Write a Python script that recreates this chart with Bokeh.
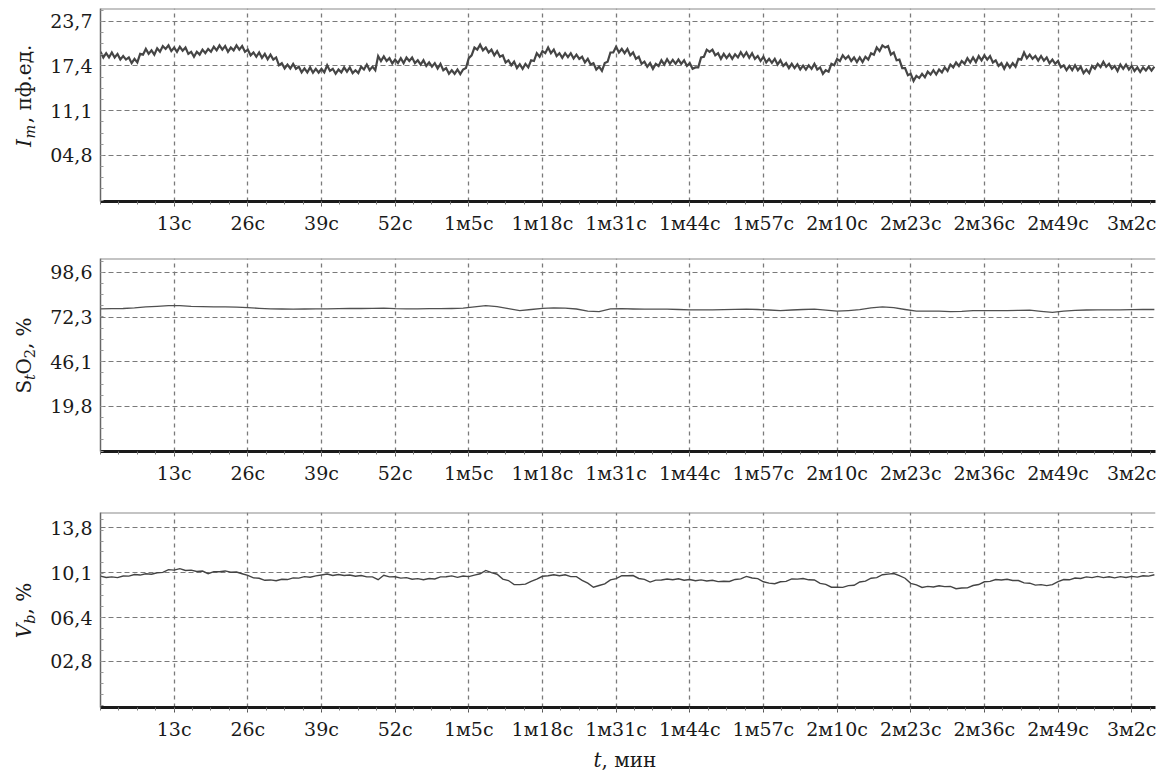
from bokeh.plotting import figure
from bokeh.models import FixedTicker, Span
from bokeh.layouts import column, row
from bokeh.embed import file_html
from bokeh.resources import INLINE
from bokeh.core.properties import value

# ---------------- data ----------------
IM_STEP = 0.5
STO2_STEP = 2.0
VB_STEP = 1.0

# I_m, perfusion units (0 .. 186 s, every 0.5 s)
im_values = [
    19.4, 18.6, 19.2, 18.6, 19.3, 18.6, 19.1, 18.3, 18.8, 18.3,
    18.6, 17.8, 18.4, 17.9, 19.1, 19.0, 19.8, 19.1, 19.6, 19.0,
    19.9, 19.4, 20.2, 19.8, 20.3, 19.5, 20.0, 19.4, 20.1, 19.55,
    20.0, 19.1, 19.4, 18.7, 19.4, 19.0, 19.7, 19.2, 19.8, 19.4,
    20.1, 19.6, 20.3, 19.7, 20.2, 19.4, 20.0, 19.6, 20.3, 19.7,
    20.2, 19.4, 19.7, 18.9, 19.3, 18.7, 19.3, 18.55, 19.1, 18.35,
    19.0, 18.3, 18.6, 17.5, 17.8, 17.05, 17.6, 17.05, 17.7, 17.0,
    17.3, 16.5, 17.05, 16.5, 17.2, 16.45, 17.0, 16.45, 17.0, 16.5,
    17.5, 16.7, 17.0, 16.3, 16.9, 16.5, 17.2, 16.6, 17.2, 16.4,
    16.8, 16.4, 17.3, 16.9, 17.6, 16.8, 17.3, 16.8, 18.8, 18.1,
    18.75, 18.1, 18.5, 17.75, 18.3, 17.8, 18.5, 17.8, 18.6, 18.1,
    18.6, 17.8, 18.2, 17.6, 18.2, 17.4, 17.9, 17.3, 17.8, 17.05,
    17.7, 16.8, 17.1, 16.3, 16.8, 16.3, 16.9, 16.25, 16.9, 17.1,
    18.5, 18.9, 20.0, 19.7, 20.4, 19.6, 20.0, 19.3, 19.7, 18.9,
    19.5, 18.7, 18.9, 17.9, 18.2, 17.5, 18.0, 17.1, 17.65, 17.0,
    17.7, 17.2, 18.2, 18.1, 19.2, 18.7, 19.5, 19.2, 20.0, 19.2,
    19.7, 18.8, 19.2, 18.55, 19.2, 18.65, 19.2, 18.45, 19.0, 18.4,
    18.7, 17.9, 18.4, 17.6, 17.8, 16.9, 17.3, 16.7, 17.8, 18.0,
    19.3, 19.3, 20.1, 19.3, 19.8, 19.2, 19.8, 18.9, 19.3, 18.4,
    18.7, 17.7, 18.0, 17.3, 17.8, 17.0, 17.7, 17.4, 18.2, 17.6,
    18.35, 17.7, 18.25, 17.7, 18.3, 17.7, 18.2, 17.4, 17.8, 17.0,
    17.2, 17.2, 18.6, 18.7, 19.7, 19.4, 19.7, 18.9, 19.2, 18.4,
    19.1, 18.5, 19.05, 18.4, 19.05, 18.6, 19.35, 18.7, 19.3, 18.55,
    19.2, 18.4, 18.8, 18.1, 18.7, 17.9, 18.4, 17.85, 18.4, 17.6,
    18.2, 17.4, 17.8, 17.1, 17.7, 17.1, 17.65, 16.9, 17.45, 16.9,
    17.5, 17.0, 17.7, 16.9, 17.2, 16.3, 16.8, 16.6, 17.7, 17.5,
    18.4, 18.1, 18.9, 18.4, 18.8, 18.1, 18.6, 17.95, 18.6, 17.95,
    18.7, 18.3, 19.2, 19.0, 20.0, 19.5, 20.3, 20.0, 20.2, 19.0,
    19.3, 18.2, 18.3, 17.1, 17.1, 16.1, 16.3, 15.3, 16.0, 15.7,
    16.3, 15.8, 16.6, 16.2, 16.8, 16.2, 16.9, 16.5, 17.2, 16.7,
    17.6, 17.2, 17.9, 17.4, 18.1, 17.7, 18.5, 17.9, 18.6, 17.95,
    18.8, 18.2, 18.9, 18.3, 18.8, 17.9, 18.2, 17.4, 17.8, 17.0,
    17.8, 17.2, 17.8, 17.3, 18.4, 18.3, 19.3, 18.5, 19.0, 18.4,
    18.8, 18.15, 18.8, 18.15, 18.6, 17.8, 18.3, 17.7, 18.1, 17.2,
    17.5, 16.8, 17.4, 16.8, 17.5, 16.8, 17.3, 16.4, 16.9, 16.4,
    17.4, 17.0, 17.7, 17.25, 18.0, 17.3, 17.7, 17.0, 17.4, 16.7,
    17.6, 17.0, 17.6, 16.9, 17.4, 16.7, 17.2, 16.55, 17.2, 16.75,
    17.3, 16.75, 17.3,
]

# StO2, % (0 .. 186 s, every 2 s)
sto2_values = [
    77.2, 77.3, 77.4, 77.8, 78.4, 78.7, 79.1, 79.1, 78.6, 78.5,
    78.4, 78.3, 78.2, 77.9, 77.5, 77.2, 77.1, 77.0, 77.1, 77.2,
    77.2, 77.3, 77.4, 77.4, 77.5, 77.6, 77.3, 77.2, 77.2, 77.3,
    77.3, 77.4, 77.6, 78.4, 79.1, 78.5, 77.3, 76.2, 76.8, 77.5,
    77.8, 77.6, 77.1, 75.8, 75.6, 77.2, 77.3, 77.1, 77.0, 77.0,
    77.0, 76.8, 76.6, 76.6, 76.6, 76.7, 76.9, 77.0, 76.8, 76.5,
    76.2, 76.5, 76.8, 77.0, 76.4, 75.8, 76.2, 76.7, 77.8, 78.4,
    77.9, 76.8, 75.8, 75.8, 75.8, 75.5, 75.7, 76.1, 76.2, 76.2,
    76.2, 76.3, 76.4, 75.7, 75.1, 75.9, 76.3, 76.5, 76.6, 76.6,
    76.6, 76.7, 76.8, 76.8,
]

# Vb, % (0 .. 186 s, every 1 s)
vb_values = [
    9.81, 9.70, 9.75, 9.69, 9.82, 9.81, 9.95, 9.90, 10.01, 9.97,
    10.09, 10.12, 10.35, 10.31, 10.43, 10.28, 10.31, 10.19, 10.23, 10.01,
    10.18, 10.17, 10.24, 10.13, 10.15, 10.01, 9.88, 9.67, 9.64, 9.47,
    9.50, 9.43, 9.55, 9.53, 9.67, 9.65, 9.77, 9.72, 9.83, 9.91,
    9.99, 9.87, 9.95, 9.86, 9.91, 9.80, 9.86, 9.75, 9.75, 9.52,
    9.88, 9.75, 9.76, 9.65, 9.69, 9.56, 9.61, 9.52, 9.62, 9.58,
    9.75, 9.76, 9.83, 9.71, 9.82, 9.77, 9.90, 10.01, 10.28, 10.10,
    9.97, 9.57, 9.45, 9.11, 9.11, 9.15, 9.39, 9.57, 9.80, 9.84,
    9.93, 9.85, 9.92, 9.77, 9.77, 9.46, 9.23, 8.90, 9.04, 9.17,
    9.50, 9.61, 9.85, 9.85, 9.86, 9.62, 9.55, 9.32, 9.48, 9.49,
    9.58, 9.51, 9.59, 9.48, 9.53, 9.43, 9.50, 9.41, 9.47, 9.36,
    9.39, 9.37, 9.54, 9.59, 9.79, 9.66, 9.61, 9.35, 9.24, 9.19,
    9.35, 9.38, 9.58, 9.57, 9.62, 9.51, 9.50, 9.21, 9.13, 8.90,
    8.91, 8.89, 9.03, 9.06, 9.33, 9.40, 9.64, 9.69, 9.93, 9.98,
    10.03, 9.85, 9.64, 9.22, 9.10, 8.88, 8.97, 8.92, 9.02, 8.95,
    8.97, 8.78, 8.83, 8.85, 9.04, 9.12, 9.35, 9.38, 9.53, 9.49,
    9.56, 9.45, 9.45, 9.26, 9.23, 9.07, 9.11, 9.03, 9.11, 9.36,
    9.53, 9.51, 9.66, 9.62, 9.75, 9.69, 9.79, 9.69, 9.76, 9.67,
    9.77, 9.70, 9.79, 9.73, 9.84, 9.81, 9.93,
]

x_ticks = [13, 26, 39, 52, 65, 78, 91, 104, 117, 130, 143, 156, 169, 182]
x_tick_labels = ["13с", "26с", "39с", "52с", "1м5с", "1м18с", "1м31с", "1м44с",
                 "1м57с", "2м10с", "2м23с", "2м36с", "2м49с", "3м2с"]

im_ticks = [4.8, 11.1, 17.4, 23.7]
im_tick_labels = ["04,8", "11,1", "17,4", "23,7"]
sto2_ticks = [19.8, 46.1, 72.3, 98.6]
sto2_tick_labels = ["19,8", "46,1", "72,3", "98,6"]
vb_ticks = [2.8, 6.4, 10.1, 13.8]
vb_tick_labels = ["02,8", "06,4", "10,1", "13,8"]

# y titles as (text, subscript?, italic?) pieces
im_title = [("I", False, True), ("m", True, True), (", пф.ед.", False, False)]
sto2_title = [("S", False, False), ("t", True, True), ("O", False, False),
              ("2", True, False), (", %", False, False)]
vb_title = [("V", False, True), ("b", True, True), (", %", False, False)]
x_title = [("t", False, True), (", мин", False, False)]

# ---------------- layout constants ----------------
X_END = 186.2
SERIF = "DejaVu Serif"
W = 1163
LAB_W = 46
FRAME_LEFT = 100
TICK_FONT = "19px"
TITLE_PX = 20.0
SUB_PX = 14.5
INK = "#1a1a1a"
BASE_SHIFT = 0.38     # renderer puts the glyph baseline this many em past the anchor
# approximate advance widths (em) of the title pieces in DejaVu Serif
ADV = {"I": 0.465, "m": 0.947, ", пф.ед.": 4.072, "S": 0.685, "t": 0.401,
       "O": 0.787, "2": 0.636, ", %": 1.586, "V": 0.722, "b": 0.640,
       ", мин": 2.75}


def minor_between(ticks, n, lo, hi):
    step = (ticks[1] - ticks[0]) / n
    out = []
    v = ticks[0]
    while v - step >= lo:
        v -= step
    while v <= hi:
        out.append(round(v, 4))
        v += step
    return out


def panel(values, step, yticks, ylabels, yrange, height, top, bottom,
          color, width):
    p = figure(width=W - LAB_W, height=height, x_range=(0, X_END), y_range=yrange,
               output_backend="svg", toolbar_location=None,
               min_border_left=FRAME_LEFT - LAB_W, min_border_right=8,
               min_border_top=top, min_border_bottom=bottom)
    p.outline_line_color = None
    p.background_fill_color = "white"
    p.border_fill_color = "white"

    t = [i * step for i in range(len(values))]
    p.line(t, values, line_color=color, line_width=width, line_join="miter")

    xa = p.xaxis[0]
    xa.ticker = FixedTicker(ticks=x_ticks,
                            minor_ticks=minor_between(x_ticks, 4, 0, X_END))
    xa.major_label_overrides = {k: v for k, v in zip(x_ticks, x_tick_labels)}
    xa.axis_line_color = "#1a1a1a"
    xa.axis_line_width = 3
    xa.major_tick_in = 0
    xa.major_tick_out = 5
    xa.minor_tick_in = 0
    xa.minor_tick_out = 3
    xa.major_tick_line_color = "#555555"
    xa.minor_tick_line_color = "#777777"
    xa.major_label_standoff = 5
    xa.major_label_text_font = SERIF
    xa.major_label_text_font_size = TICK_FONT
    xa.major_label_text_color = INK

    ya = p.yaxis[0]
    ya.ticker = FixedTicker(ticks=yticks,
                            minor_ticks=minor_between(yticks, 4, yrange[0], yrange[1]))
    ya.major_label_overrides = {k: v for k, v in zip(yticks, ylabels)}
    ya.axis_line_color = "#666666"
    ya.axis_line_width = 1.5
    ya.major_tick_in = 4
    ya.major_tick_out = 0
    ya.minor_tick_in = 3
    ya.minor_tick_out = 0
    ya.major_tick_line_color = "#777777"
    ya.minor_tick_line_color = "#999999"
    ya.major_label_standoff = 8
    ya.major_label_text_font = SERIF
    ya.major_label_text_font_size = TICK_FONT
    ya.major_label_text_color = INK

    p.xgrid.grid_line_color = "#7a7a7a"
    p.xgrid.grid_line_dash = "4 4"
    p.xgrid.grid_line_width = 1.3
    p.ygrid.grid_line_color = "#7a7a7a"
    p.ygrid.grid_line_dash = "5 3"
    p.ygrid.grid_line_width = 1.2

    p.add_layout(Span(location=yrange[1], dimension="width",
                      line_color="#8a8a8a", line_width=2))
    return p


def bare(width, height, xr, yr, top=0, bottom=0):
    s = figure(width=width, height=height, x_range=xr, y_range=yr,
               output_backend="svg", toolbar_location=None,
               x_axis_type=None, y_axis_type=None,
               min_border_left=0, min_border_right=0,
               min_border_top=top, min_border_bottom=bottom)
    s.outline_line_color = None
    s.grid.visible = False
    s.background_fill_color = "white"
    s.border_fill_color = "white"
    return s


def put(s, text, x, y, size, italic, angle, align):
    s.text(x=[x], y=[y], text=[text], angle=angle, angle_units="deg",
           text_font=value(SERIF), text_font_size=value(f"{size}px"),
           text_font_style="italic" if italic else "normal", text_color=INK,
           text_align=align, text_baseline="alphabetic")


def y_title(height, top, bottom, pieces, center_y, base_x=31, sub_x=35):
    # strip whose frame lines up with the panel frame; data units = page pixels
    f_top, f_bot = top, height - bottom
    s = bare(LAB_W, height, (0, LAB_W), (f_bot, f_top), top, bottom)
    sizes = [SUB_PX if sub else TITLE_PX for _, sub, _ in pieces]
    total = sum(ADV[t] * sz for (t, _, _), sz in zip(pieces, sizes))
    pos = center_y + total / 2.0       # reading runs upward from here
    for (text, sub, ital), sz in zip(pieces, sizes):
        adv = ADV[text] * sz
        bx = sub_x if sub else base_x
        put(s, text, bx - BASE_SHIFT * sz, pos - adv / 2.0, sz, ital, 90, "center")
        pos -= adv
    return s


H1, H2, H3, HT = 250, 250, 247, 27

p1 = panel(im_values, IM_STEP, im_ticks, im_tick_labels, (-1.7, 25.5),
           H1, 8, 49, "#454545", 2.2)
p2 = panel(sto2_values, STO2_STEP, sto2_ticks, sto2_tick_labels, (-6.7, 106.8),
           H2, 8, 49, "#505050", 1.3)
p3 = panel(vb_values, VB_STEP, vb_ticks, vb_tick_labels, (-1.0, 15.05),
           H3, 12, 40, "#444444", 1.4)

# centres are in each row's own pixel rows (row 2 starts at page y 250, row 3 at 500)
l1 = y_title(H1, 8, 49, im_title, 95)
l2 = y_title(H2, 8, 49, sto2_title, 105)
l3 = y_title(H3, 12, 40, vb_title, 110)

xt = bare(W, HT, (0, W), (HT, 0))
x_pos = 593.0
for text, sub, ital in x_title:
    put(xt, text, x_pos, 20 - BASE_SHIFT * TITLE_PX, TITLE_PX, ital, 0, "left")
    x_pos += ADV[text] * TITLE_PX

layout = column(row(l1, p1), row(l2, p2), row(l3, p3), xt)
open("out.html", "w").write(file_html(layout, INLINE))
